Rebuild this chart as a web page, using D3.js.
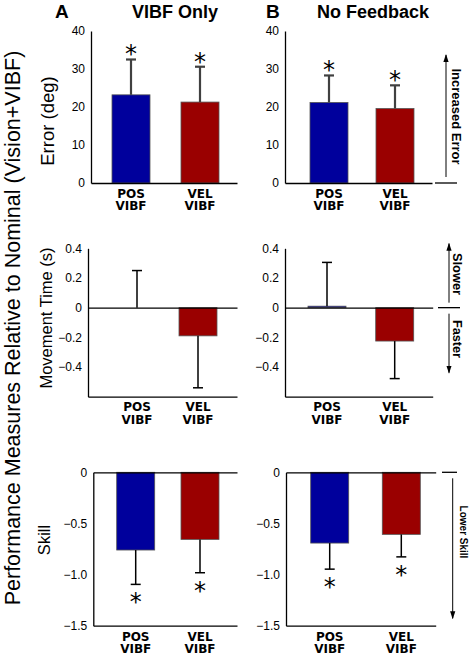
<!DOCTYPE html>
<html><head><meta charset="utf-8">
<script src="https://cdn.jsdelivr.net/npm/d3@7"></script>
<style>body{margin:0;background:#fff} svg{display:block}</style>
</head><body>
<script>
// ---------------- DATA ----------------
const panelLetters = ["A", "B"];
const conditions = ["VIBF Only", "No Feedback"];
const categories = ["POS", "VEL"];
const categorySubLabel = "VIBF";
const measureTitles = ["Error (deg)", "Movement Time (s)", "Skill"];
const bigLabel = "Performance Measures Relative to Nominal (Vision+VIBF)";

// Error (deg): means and (one-sided) error bar lengths
const errorVibfOnly = [23.2, 21.3];
const errorVibfOnlySD = [9.3, 9.3];
const errorNoFeedback = [21.2, 19.6];
const errorNoFeedbackSD = [7.1, 6.1];
// Movement time (s)
const mtVibfOnly = [0.0, -0.19];
const mtVibfOnlySD = [0.25, 0.35];
const mtNoFeedback = [0.01, -0.225];
const mtNoFeedbackSD = [0.295, 0.253];
// Skill
const skillVibfOnly = [-0.76, -0.656];
const skillVibfOnlySD = [0.336, 0.326];
const skillNoFeedback = [-0.692, -0.607];
const skillNoFeedbackSD = [0.255, 0.22];
// significance markers
const errorSignificant = [true, true];
const mtSignificant = [false, false];
const skillSignificant = [true, true];

const errorTicks = [0, 10, 20, 30, 40];
const errorTickLabels = ["0", "10", "20", "30", "40"];
const mtTicks = [-0.4, -0.2, 0, 0.2, 0.4];
const mtTickLabels = ["\u22120.4", "\u22120.2", "0", "0.2", "0.4"];
const skillTicks = [-1.5, -1.0, -0.5, 0];
const skillTickLabels = ["\u22121.5", "\u22121.0", "\u22120.5", "0"];

const sideNotes = [["Increased Error"], ["Slower", "Faster"], ["Lower Skill"]];
const barColors = ["#00009c", "#9a0000"];

// ---------------- LAYOUT ----------------
const W = 472, H = 656;
const rows = [
  { domain: [0, 40], py: [183, 31], ticks: errorTicks, tickLabels: errorTickLabels,
    means: [errorVibfOnly, errorNoFeedback], sds: [errorVibfOnlySD, errorNoFeedbackSD], sig: errorSignificant,
    labelY: [197.5, 210], titleCenter: 121, titleX: 53.5, titleFs: 18.5, errColor: "#404040", errW: 2.2, zeroLine: false },
  { domain: [-0.6, 0.4], py: [396.7, 248.3], ticks: mtTicks, tickLabels: mtTickLabels,
    means: [mtVibfOnly, mtNoFeedback], sds: [mtVibfOnlySD, mtNoFeedbackSD], sig: mtSignificant,
    labelY: [410.5, 424], titleCenter: 318, titleX: 52, titleFs: 16.5, errColor: "#000", errW: 1.5, zeroLine: true },
  { domain: [-1.5, 0], py: [625.7, 472.3], ticks: skillTicks, tickLabels: skillTickLabels,
    means: [skillVibfOnly, skillNoFeedback], sds: [skillVibfOnlySD, skillNoFeedbackSD], sig: skillSignificant,
    labelY: [640.5, 653], titleCenter: 540, titleX: 50, titleFs: 16.5, errColor: "#000", errW: 1.5, zeroLine: true }
];
const panels = [
  [{ ax: [91, 237], bars: [112, 219] }, { ax: [285, 432], bars: [310, 414] }],
  [{ ax: [88, 237], bars: [118, 217] }, { ax: [285, 432.7], bars: [308, 413.7] }],
  [{ ax: [93.3, 237], bars: [116.7, 219] }, { ax: [286, 435.7], bars: [310.7, 420.3] }]
];
const bandW = 38;
const starFs = 24;

const svg = d3.select("body").append("svg").attr("width", W).attr("height", H)
  .attr("font-family", "'Liberation Sans', Arial, sans-serif");

const defs = svg.append("defs");
defs.append("marker").attr("id", "arr").attr("viewBox", "0 -3 8 6")
  .attr("refX", 7).attr("refY", 0).attr("markerUnits", "userSpaceOnUse")
  .attr("markerWidth", 8).attr("markerHeight", 6).attr("orient", "auto")
  .append("path").attr("d", "M0,-2.6L8,0L0,2.6Z").attr("fill", "#000");

// big rotated label
svg.append("text").attr("transform", "translate(20,328) rotate(-90)")
  .attr("text-anchor", "middle").attr("font-size", 21.5).attr("fill", "#000").text(bigLabel);

// panel headers
const headerX = [[55, 132], [266, 317]];
panelLetters.forEach((L, c) => {
  svg.append("text").attr("x", headerX[c][0]).attr("y", 18).attr("font-size", 19)
    .attr("font-weight", "bold").text(L);
  svg.append("text").attr("x", headerX[c][1]).attr("y", 17.5).attr("font-size", 18)
    .attr("font-weight", "bold").text(conditions[c]);
});

const yScales = [];
rows.forEach((row, r) => {
  const y = d3.scaleLinear().domain(row.domain).range(row.py);
  yScales.push(y);
  // measure title
  svg.append("text").attr("transform", `translate(${row.titleX},${row.titleCenter}) rotate(-90)`)
    .attr("text-anchor", "middle").attr("font-size", row.titleFs).text(measureTitles[r]);

  panels[r].forEach((p, c) => {
    const g = svg.append("g");
    const step = (p.bars[1] - p.bars[0]) - bandW;
    const x = d3.scaleBand().domain(categories).range(p.bars)
      .paddingInner(1 - bandW / step).paddingOuter(0);

    // bars
    const vals = row.means[c], sds = row.sds[c];
    const y0 = y(0);
    categories.forEach((cat, i) => {
      const v = vals[i];
      g.append("rect").attr("x", x(cat)).attr("width", x.bandwidth())
        .attr("y", Math.min(y(v), y0)).attr("height", Math.abs(y(v) - y0))
        .attr("fill", barColors[i]).attr("stroke", "#555").attr("stroke-width", 0.8);
    });

    // axes lines
    const yAxis = d3.axisLeft(y).tickValues(row.ticks)
      .tickFormat((d, i) => row.tickLabels[i]).tickSize(0).tickPadding(6);
    const ga = g.append("g").attr("transform", `translate(${p.ax[0]},0)`).call(yAxis);
    ga.select(".domain").attr("stroke", "#000").attr("stroke-width", 1.3);
    ga.selectAll("text").attr("font-size", 12).attr("font-family", "'Liberation Sans', Arial, sans-serif").attr("fill", "#000");

    const xAxis = d3.axisBottom(d3.scaleLinear().range(p.ax)).tickValues([]).tickSizeOuter(0);
    const bottomY = y(row.domain[0]);
    const gb = g.append("g").attr("transform", `translate(0,${bottomY})`).call(xAxis);
    gb.select(".domain").attr("stroke", "#000").attr("stroke-width", 1.3);
    if (row.zeroLine) {
      const gz = g.append("g").attr("transform", `translate(0,${y0})`).call(xAxis);
      gz.select(".domain").attr("stroke", "#000").attr("stroke-width", 1.3);
    }

    // error bars + asterisks
    categories.forEach((cat, i) => {
      const v = vals[i];
      const dir = v < 0 ? -1 : 1;
      const end = v + dir * sds[i];
      const cx = x(cat) + x.bandwidth() / 2;
      g.append("line").attr("x1", cx).attr("x2", cx).attr("y1", y(v)).attr("y2", y(end))
        .attr("stroke", row.errColor).attr("stroke-width", row.errW);
      g.append("line").attr("x1", cx - 5).attr("x2", cx + 5).attr("y1", y(end)).attr("y2", y(end))
        .attr("stroke", row.errColor).attr("stroke-width", row.errW);
      if (row.sig[i]) {
        const cy = y(end) - dir * 11.5;
        g.append("text").attr("x", cx).attr("y", cy + 0.6 * starFs).attr("text-anchor", "middle")
          .attr("fill", "#000").attr("font-family", "'DejaVu Sans', sans-serif")
          .attr("font-size", starFs).text("*");
      }
    });

    // category labels
    categories.forEach((cat, i) => {
      const cx = x(cat) + x.bandwidth() / 2;
      const t = g.append("text").attr("text-anchor", "middle").attr("fill", "#000")
        .attr("font-family", "'DejaVu Sans', Verdana, sans-serif").attr("font-weight", "bold")
        .attr("font-size", 12);
      t.append("tspan").attr("x", cx).attr("y", row.labelY[0]).text(cat);
      t.append("tspan").attr("x", cx).attr("y", row.labelY[1]).text(categorySubLabel);
    });
  });
});

// side annotations
const ann = svg.append("g").attr("font-family", "'Liberation Sans', Arial, sans-serif").attr("font-weight", "bold");
function hline(x0, x1, yy) {
  ann.append("line").attr("x1", x0).attr("x2", x1).attr("y1", yy).attr("y2", yy)
    .attr("stroke", "#000").attr("stroke-width", 1.3);
}
function arrow(xx, yFrom, yTo) {
  ann.append("line").attr("x1", xx).attr("x2", xx).attr("y1", yFrom).attr("y2", yTo)
    .attr("stroke", "#000").attr("stroke-width", 1).attr("marker-end", "url(#arr)");
}
function vtext(xx, cy, txt, fs) {
  ann.append("text").attr("transform", `translate(${xx},${cy}) rotate(90)`)
    .attr("text-anchor", "middle").attr("font-size", fs).attr("fill", "#000").text(txt);
}
// row 1
{
  const y = yScales[0];
  hline(435, 457, y(0));
  arrow(446, y(0) - 6, y(0) - 128);
  vtext(451.5, 116.5, sideNotes[0][0], 13);
}
// row 2
{
  const y = yScales[1];
  hline(438, 460, y(0));
  arrow(449, y(0) - 5, y(0) - 64);
  arrow(449, y(0) + 6, y(0) + 65);
  vtext(453, 274, sideNotes[1][0], 12.8);
  vtext(453, 339, sideNotes[1][1], 12.7);
}
// row 3
{
  const y = yScales[2];
  hline(442, 457, y(0));
  arrow(452.7, y(0) + 6, y(0) + 146);
  vtext(460, 532, sideNotes[2][0], 10);
}
</script>
</body></html>
